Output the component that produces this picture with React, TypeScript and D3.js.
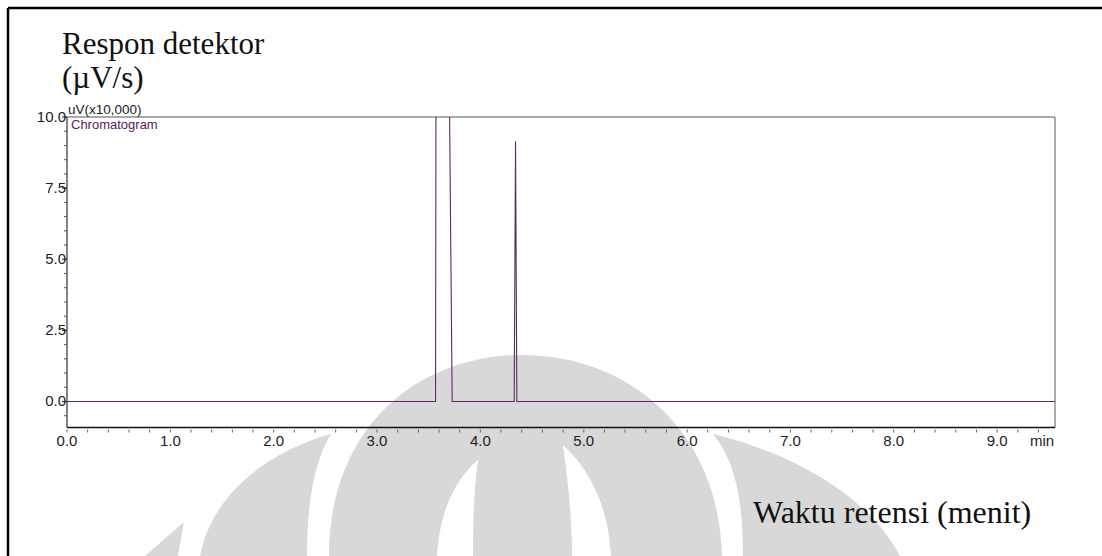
import React from 'react';
import * as d3 from 'd3';

// chromatogram trace (time in min, response in uV x10,000) - first peak is off scale
const times = [0, 3.566, 3.572, 3.62, 3.69, 3.727, 4.327, 4.34, 4.353, 9.56];
const signal = [0, 0, 15, 20, 15, 0, 0, 9.15, 0, 0];

const xMajor = [0, 1, 2, 3, 4, 5, 6, 7, 8, 9];
const yMajor = [0, 2.5, 5, 7.5, 10];

// watermark (background logo), purely decorative
const markGray = [
  'M329,556 C329,425 420,355 522,355 C624,355 718,425 722,556 Z',
  'M331,434 C290,445 215,480 200,556 L307,556 C307,500 315,460 331,434 Z',
  'M713,434 C760,445 860,480 900,556 L743,556 C743,500 735,460 713,434 Z',
  'M184,522 L178,556 L145,556 Z',
];
const markWhite = [
  'M478,460 C455,480 440,510 437,556 L473,556 C473,520 474,490 478,460 Z',
  'M563,445 C590,470 608,505 611,556 L572,556 C572,520 568,480 563,445 Z',
];

const SANS = '"Liberation Sans", Arial, sans-serif';
const SERIF = '"Liberation Serif", "Times New Roman", serif';

export default function App() {
  const width = 1102;
  const height = 556;
  const left = 67, right = 1055, top = 117, bottom = 427.5;

  const x = d3.scaleLinear().domain([0, 9.56]).range([left, right]);
  const y = d3.scaleLinear().domain([-0.914, 10]).range([bottom, top]);

  const line = d3.line<number>()
    .x((_, i) => x(times[i]))
    .y(d => y(d));

  const xMinor = d3.range(0, 9.57, 0.2);
  const yMinor = d3.range(-0.5, 10.01, 0.5);
  const fmt = d3.format('.1f');

  return (
    <svg width={width} height={height} style={{ position: 'absolute', left: 0, top: 0, background: '#fff' }}>
      {markGray.map((p, i) => <path key={'g' + i} d={p} fill="#d8d8d8" />)}
      {markWhite.map((p, i) => <path key={'w' + i} d={p} fill="#fff" />)}

      {/* outer frame */}
      <line x1={8} y1={8} x2={width} y2={8} stroke="#000" strokeWidth={2.5} />
      <line x1={8} y1={8} x2={8} y2={height} stroke="#000" strokeWidth={2.5} />

      {/* axis titles */}
      <text x={62} y={54} fontFamily={SERIF} fontSize={31} fill="#111">Respon detektor</text>
      <text x={62} y={88} fontFamily={SERIF} fontSize={31} fill="#111">(µV/s)</text>
      <text x={753} y={523} fontFamily={SERIF} fontSize={32} fill="#111">Waktu retensi (menit)</text>

      <defs>
        <clipPath id="plot-clip">
          <rect x={left} y={top} width={right - left} height={bottom - top} />
        </clipPath>
      </defs>

      {/* trace */}
      <path d={line(signal) || ''} fill="none" stroke="#5a2a60" strokeWidth={1.1} clipPath="url(#plot-clip)" />

      {/* plot frame */}
      <line x1={left} y1={top} x2={right} y2={top} stroke="#555" strokeWidth={1} />
      <line x1={right} y1={top} x2={right} y2={bottom} stroke="#555" strokeWidth={1} />
      <line x1={left} y1={top} x2={left} y2={bottom} stroke="#333" strokeWidth={1.2} />
      <line x1={left} y1={bottom} x2={right} y2={bottom} stroke="#111" strokeWidth={1.5} />

      {/* x ticks */}
      {xMinor.map((t, i) => (
        <line key={'xm' + i} x1={x(t)} x2={x(t)} y1={bottom + 2} y2={bottom + 5} stroke="#666" strokeWidth={1} />
      ))}
      {xMajor.map(t => (
        <text key={'xl' + t} x={x(t)} y={446} textAnchor="middle" fontFamily={SANS} fontSize={15} fill="#222">{fmt(t)}</text>
      ))}
      <text x={1030} y={446} fontFamily={SANS} fontSize={15} fill="#222">min</text>

      {/* y ticks */}
      {yMinor.map((t, i) => (
        <line key={'ym' + i} x1={left - 3} x2={left} y1={y(t)} y2={y(t)} stroke="#555" strokeWidth={1} />
      ))}
      {yMajor.map(t => (
        <line key={'yM' + t} x1={left - 5} x2={left} y1={y(t)} y2={y(t)} stroke="#333" strokeWidth={1} />
      ))}
      {yMajor.map(t => (
        <text key={'yl' + t} x={left - 1} y={y(t) + 5} textAnchor="end" fontFamily={SANS} fontSize={15} fill="#222">{fmt(t)}</text>
      ))}

      <text x={68} y={114} fontFamily={SANS} fontSize={13.5} fill="#222">uV(x10,000)</text>
      <text x={71} y={129} fontFamily={SANS} fontSize={13} fill="#5a2060">Chromatogram</text>
    </svg>
  );
}
